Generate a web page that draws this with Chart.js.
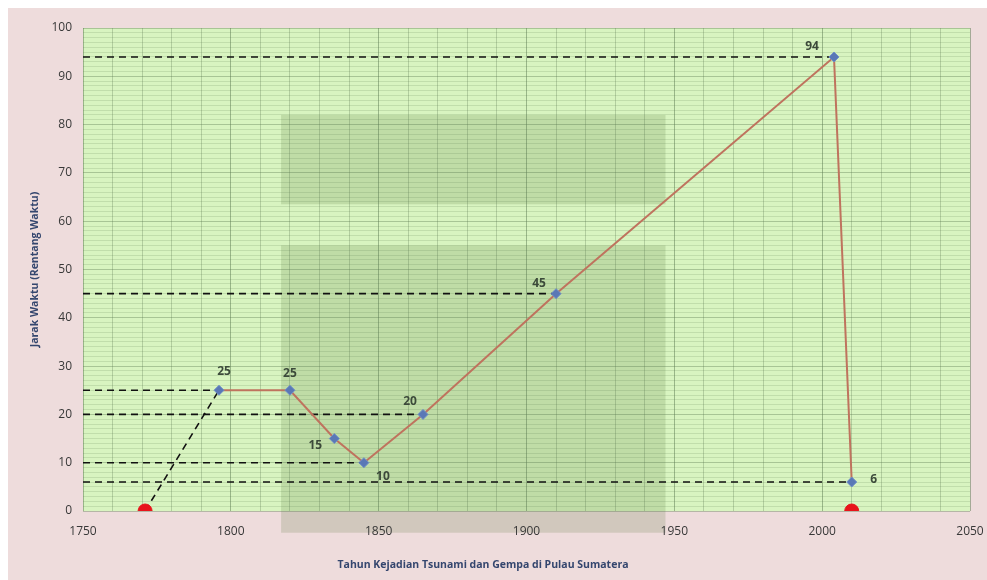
<!DOCTYPE html>
<html>
<head>
<meta charset="utf-8">
<script src="https://cdn.jsdelivr.net/npm/chart.js@4"></script>
<style>
  html, body { margin: 0; padding: 0; background: #ffffff; }
  #wrap { width: 987px; height: 580px; position: relative; }
</style>
</head>
<body>
<div id="wrap"><canvas id="chart" width="987" height="580"></canvas></div>
<script>
// =====================================================
// DATA
// =====================================================
const years = [1796, 1820, 1835, 1845, 1865, 1910, 2004, 2010];
const gaps = [25, 25, 15, 10, 20, 45, 94, 6];
const redYears = [1771, 2010];
const redValues = [0, 0];
const guideIdx = [0, 3, 4, 5, 6, 7];   // points with a dashed line back to the y axis
const xTicks = [1750, 1800, 1850, 1900, 1950, 2000, 2050];
const yTicks = [0, 10, 20, 30, 40, 50, 60, 70, 80, 90, 100];

// label offsets (px) for each point label
const labelOffsets = [[5, -19], [0, -17], [-19, 7], [19, 14], [-13, -13], [-17, -10], [-22, -10], [22, -2]];
// darker shaded boxes behind the plot (in data units)
const shadeBoxes = [
    { x0: 1817, x1: 1947, y0: 63.5, y1: 82 },
    { x0: 1817, x1: 1947, y0: -4.5, y1: 55 }
];

const mainPoints = years.map((y, i) => ({ x: y, y: gaps[i] }));
const redPoints = redYears.map((y, i) => ({ x: y, y: redValues[i] }));

const guideSets = guideIdx.map(i => ({
    data: [{ x: xTicks[0], y: gaps[i] }, { x: years[i], y: gaps[i] }],
    showLine: true, borderColor: '#111', borderWidth: 1.6, borderDash: [7, 5],
    pointRadius: 0, order: 5
}));
guideSets.push({
    data: [redPoints[0], mainPoints[0]],
    showLine: true, borderColor: '#111', borderWidth: 1.6, borderDash: [7, 5],
    pointRadius: 0, order: 5
});

// =====================================================
// PLUGINS
// =====================================================
const background = {
    id: 'background',
    beforeDraw(chart) {
        const { ctx, chartArea: a, scales } = chart;
        ctx.save();
        ctx.fillStyle = '#ffffff';
        ctx.fillRect(0, 0, chart.width, chart.height);
        ctx.fillStyle = '#eedcdc';
        ctx.fillRect(8, 8, chart.width - 8, chart.height - 8);
        ctx.fillStyle = '#d8f4c0';
        ctx.fillRect(a.left, a.top, a.right - a.left, a.bottom - a.top);
        ctx.fillStyle = 'rgba(60,100,30,0.16)';
        shadeBoxes.forEach(b => {
            const x0 = scales.x.getPixelForValue(b.x0), x1 = scales.x.getPixelForValue(b.x1);
            const y0 = scales.y.getPixelForValue(b.y0), y1 = scales.y.getPixelForValue(b.y1);
            ctx.fillRect(x0, y1, x1 - x0, y0 - y1);
        });
        ctx.restore();
    }
};

const pointLabels = {
    id: 'pointLabels',
    afterDatasetsDraw(chart) {
        const { ctx } = chart;
        const meta = chart.getDatasetMeta(0);
        ctx.save();
        ctx.font = 'bold 12px "Open Sans", sans-serif';
        ctx.fillStyle = '#3c4a3a';
        ctx.textAlign = 'center';
        ctx.textBaseline = 'middle';
        meta.data.forEach((pt, i) => {
            const o = labelOffsets[i];
            ctx.fillText(String(gaps[i]), pt.x + o[0], pt.y + o[1]);
        });
        ctx.restore();
    }
};

const axisTitles = {
    id: 'axisTitles',
    afterDraw(chart) {
        const { ctx, chartArea: a } = chart;
        ctx.save();
        ctx.fillStyle = '#34466e';
        ctx.font = 'bold 10.5px "Open Sans", sans-serif';
        ctx.textAlign = 'center';
        ctx.textBaseline = 'middle';
        ctx.fillText('Tahun Kejadian Tsunami dan Gempa di Pulau Sumatera', 483, 565);
        ctx.translate(35, (a.top + a.bottom) / 2);
        ctx.rotate(-Math.PI / 2);
        ctx.fillText('Jarak Waktu (Rentang Waktu)', 0, 0);
        ctx.restore();
    }
};

// =====================================================
// CHART
// =====================================================
new Chart(document.getElementById('chart'), {
    type: 'scatter',
    data: {
        datasets: [
            {
                data: mainPoints, showLine: true,
                borderColor: '#bf735e', borderWidth: 2,
                pointStyle: 'rectRot', pointRadius: 5,
                pointBackgroundColor: '#5a78b6', pointBorderColor: '#6f8fc8', pointBorderWidth: 1,
                order: 1
            },
            {
                data: redPoints, showLine: false,
                pointRadius: 7, pointBackgroundColor: '#e8141b', pointBorderColor: '#e8141b',
                order: 0
            },
            ...guideSets
        ]
    },
    options: {
        responsive: false,
        animation: false,
        layout: { padding: { left: 0, right: 17, top: 28, bottom: 0 } },
        plugins: { legend: { display: false }, tooltip: { enabled: false } },
        scales: {
            x: {
                type: 'linear', min: 1750, max: 2050,
                afterFit: s => { s.height = 69; s.paddingLeft = 0; s.paddingRight = 0; },
                afterBuildTicks: s => {
                    const t = [];
                    for (let v = 1750; v <= 2050; v += 10) t.push({ value: v });
                    s.ticks = t;
                },
                ticks: {
                    autoSkip: false, maxRotation: 0, padding: 13,
                    color: '#383838', font: { size: 12, family: '"Open Sans", sans-serif' },
                    callback: v => xTicks.includes(v) ? String(v) : ''
                },
                grid: {
                    drawTicks: false, tickLength: 0,
                    color: c => (c.tick && c.tick.value % 50 === 0) ? 'rgba(90,120,80,0.5)' : 'rgba(90,120,80,0.3)',
                    lineWidth: 1
                },
                border: { display: false }
            },
            y: {
                min: 0, max: 100,
                afterFit: s => { s.width = 83; s.paddingTop = 0; s.paddingBottom = 0; },
                afterBuildTicks: s => {
                    const t = [];
                    for (let v = 0; v <= 100; v += 1) t.push({ value: v });
                    s.ticks = t;
                },
                ticks: {
                    autoSkip: false, padding: 11,
                    color: '#383838', font: { size: 12, family: '"Open Sans", sans-serif' },
                    callback: v => yTicks.includes(v) ? String(v) : ''
                },
                grid: {
                    drawTicks: false, tickLength: 0,
                    color: c => (c.tick && c.tick.value % 10 === 0) ? 'rgba(90,120,80,0.38)' : 'rgba(90,120,80,0.18)',
                    lineWidth: 1
                },
                border: { display: false }
            }
        }
    },
    plugins: [background, pointLabels, axisTitles]
});
</script>
</body>
</html>
